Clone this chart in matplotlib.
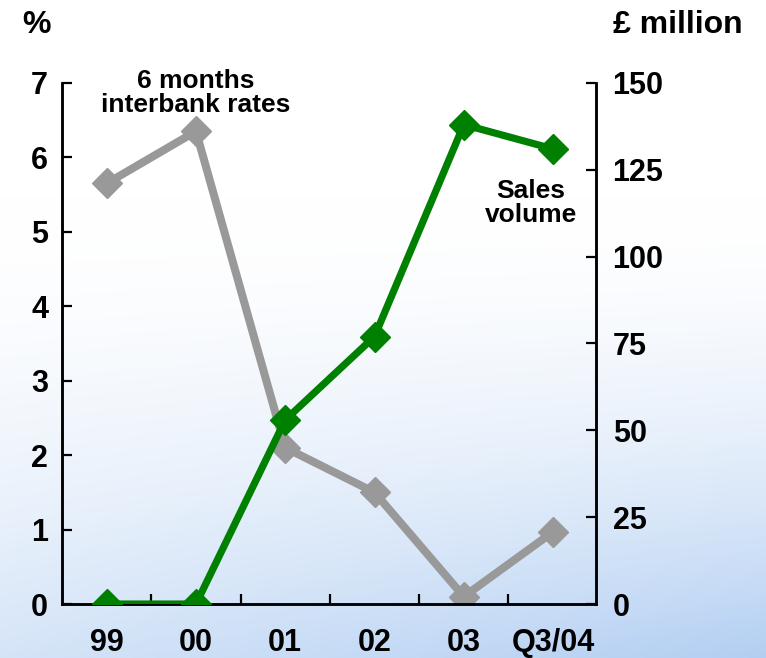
import numpy as np
import matplotlib.pyplot as plt

plt.rcParams['font.family'] = ['Liberation Sans', 'DejaVu Sans']
plt.rcParams['font.weight'] = 'bold'

# Datos de la gráfica
periodos = ['99', '00', '01', '02', '03', 'Q3/04']
tasa_interbancaria = [5.65, 6.35, 2.1, 1.5, 0.1, 0.97]   # % (eje izquierdo)
volumen_ventas = [0, 0, 53, 77, 138, 131]                # £ millones (eje derecho)

fig = plt.figure(figsize=(7.66, 6.58), dpi=100)

# Fondo degradado blanco -> azul claro en la parte inferior
fondo = fig.add_axes([0, 0, 1, 1], zorder=-10)
yy, xx = np.mgrid[0:1:300j, 0:1:300j]
t = np.clip((yy - 0.3) / 0.7, 0, 1) ** 1.7 * (0.55 + 0.45 * xx)
blanco = np.array([1.0, 1.0, 1.0])
azul = np.array([0.70, 0.81, 0.95])
img = blanco + t[..., None] * (azul - blanco)
fondo.imshow(img, extent=[0, 1, 0, 1], aspect='auto', origin='upper')
fondo.axis('off')

ax = fig.add_axes([0.081, 0.082, 0.697, 0.792])
ax.patch.set_alpha(0)
ax2 = ax.twinx()

x = np.arange(len(periodos))
ax.plot(x, tasa_interbancaria, color='#999999', lw=5.8, marker='D', ms=15, zorder=2)
ax2.plot(x, volumen_ventas, color='#008000', lw=5.2, marker='D', ms=15, zorder=3)

ax.set_xlim(-0.5, 5.48)
ax.set_ylim(0, 7)
ax2.set_ylim(0, 150)
ax.set_yticks(range(0, 8))
ax2.set_yticks(range(0, 151, 25))

ax.set_xticks(x)
ax.set_xticklabels(periodos)
ax.set_xticks(np.arange(0.5, 5, 1), minor=True)
ax.tick_params(axis='x', which='major', length=0, pad=17, labelsize=22)
ax.tick_params(axis='x', which='minor', direction='in', length=7, width=1.6)
ax.tick_params(axis='y', direction='in', length=7, width=1.6, pad=10, labelsize=22)
ax2.tick_params(axis='y', direction='in', length=7, width=1.6, pad=12, labelsize=22)

for a in (ax, ax2):
    a.spines['top'].set_visible(False)
    for s in ('left', 'right', 'bottom'):
        a.spines[s].set_linewidth(1.8)

ax.text(1.0, 6.61, '6 months\ninterbank rates', ha='center', va='baseline',
        fontsize=19, fontweight='bold', linespacing=1.0)
ax2.text(4.75, 110, 'Sales\nvolume', ha='center', va='baseline',
         fontsize=19, fontweight='bold', linespacing=1.0)

fig.text(0.048, 0.962, '%', ha='center', va='center', fontsize=23, fontweight='bold')
fig.text(0.8, 0.962, '£ million', ha='left', va='center', fontsize=23, fontweight='bold')

fig.savefig('out.png', dpi=100)
